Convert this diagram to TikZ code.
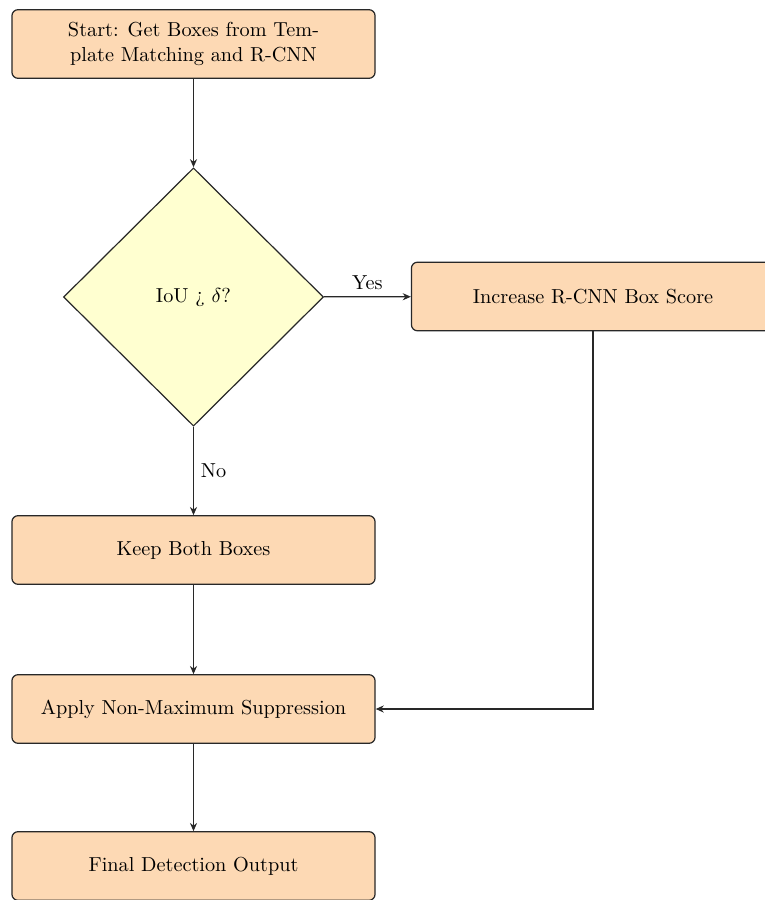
\documentclass[tikz,border=0pt]{standalone}
\usetikzlibrary{shapes.geometric,arrows.meta}
\definecolor{peach}{RGB}{253,217,180}
\definecolor{paleyellow}{RGB}{255,255,208}
\definecolor{edge}{RGB}{40,40,40}
\begin{document}
\begin{tikzpicture}[x=0.01735cm,y=-0.01735cm,
  procbox/.style={rectangle, rounded corners=3pt, draw=edge, fill=peach, line width=0.6pt,
    minimum width=6.3cm, minimum height=1.19cm, align=center, inner sep=0pt},
  decbox/.style={diamond, draw=edge, fill=paleyellow, line width=0.6pt,
    minimum width=4.51cm, minimum height=4.48cm, inner sep=0pt},
  flow/.style={-{Stealth[length=4pt,width=3.5pt]}, line width=0.6pt, draw=edge}]
\useasboundingbox (0,0) rectangle (764,900);
\node[procbox] (start) at (193.5,44) {Start: Get Boxes from Tem-\\plate Matching and R-CNN};
\node[decbox] (dec) at (193.5,297) {IoU ¿ $\delta$?};
\node[procbox] (inc) at (593,296.5) {Increase R-CNN Box Score};
\node[procbox] (keep) at (193.5,550) {Keep Both Boxes};
\node[procbox] (nms) at (193.5,709) {Apply Non-Maximum Suppression};
\node[procbox] (final) at (193.5,866) {Final Detection Output};
\draw[flow] (start) -- (dec);
\draw[flow] (dec) -- node[above] {Yes} (inc);
\draw[flow] (dec) -- node[right] {No} (keep);
\draw[flow] (keep) -- (nms);
\draw[flow] (nms) -- (final);
\draw[flow] (inc.south) |- (nms.east);
\end{tikzpicture}
\end{document}
